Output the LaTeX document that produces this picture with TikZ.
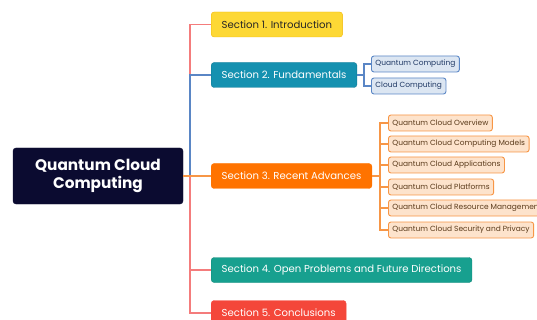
\documentclass[tikz,border=0pt]{standalone}
\usepackage{fontspec}
\setmainfont{Poppins}
\usetikzlibrary{positioning}

\definecolor{rootfill}{HTML}{0B0B30}
\definecolor{introfill}{HTML}{FDD835}
\definecolor{introline}{HTML}{F2B705}
\definecolor{fundfill}{HTML}{1591B0}
\definecolor{advfill}{HTML}{FF7300}
\definecolor{openfill}{HTML}{17A08F}
\definecolor{conclfill}{HTML}{F4473A}
\definecolor{salmon}{HTML}{F47C7C}
\definecolor{bluelink}{HTML}{5A86C5}
\definecolor{orangelink}{HTML}{F79646}
\definecolor{leafblue}{HTML}{DCE6F2}
\definecolor{leafbluetext}{HTML}{1F3864}
\definecolor{leafpeach}{HTML}{FDE3CC}
\definecolor{leafpeachtext}{HTML}{5A3A1A}

\begin{document}
\begin{tikzpicture}[x=1pt,y=-1pt,
  rootbox/.style={draw=rootfill,fill=rootfill,text=white,rounded corners=3pt,
    font=\fontsize{15.3}{18}\selectfont\bfseries,align=center,
    minimum width=170pt,minimum height=56pt},
  secbox/.style={rounded corners=3pt,anchor=west,minimum height=25pt,
    inner xsep=10.5pt,font=\fontsize{10.1}{12}\selectfont,text=white},
  leaf/.style={rounded corners=2.5pt,anchor=west,minimum height=16pt,
    inner xsep=4pt,inner ysep=0pt,font=\fontsize{7.45}{9}\selectfont,line width=0.9pt},
  blueleaf/.style={leaf,draw=bluelink,fill=leafblue,text=leafbluetext},
  peachleaf/.style={leaf,draw=orangelink,fill=leafpeach,text=leafpeachtext},
  link/.style={line width=1.1pt}]
\useasboundingbox (0,0) rectangle (537,320);

% main topic and sections
\node[rootbox] (root) at (98,176) {Quantum Cloud\\Computing};
\node[secbox,draw=introline,fill=introfill,text=black!85] (intro) at (211,24.5) {Section 1. Introduction};
\node[secbox,draw=fundfill!85!black,fill=fundfill] (fund) at (211,75) {Section 2. Fundamentals};
\node[secbox,draw=advfill,fill=advfill] (adv) at (211,176) {Section 3. Recent Advances};
\node[secbox,draw=openfill!85!black,fill=openfill] (open) at (211,270) {Section 4. Open Problems and Future Directions};
\node[secbox,draw=conclfill,fill=conclfill] (concl) at (211,313) {Section 5. Conclusions};

% fundamentals
\node[blueleaf] (qc) at (371,64) {Quantum Computing};
\node[blueleaf] (cc) at (371,86) {Cloud Computing};

% recent advances
\node[peachleaf] (ov) at (388,123) {Quantum Cloud Overview};
\node[peachleaf] (models) at (388,144) {Quantum Cloud Computing Models};
\node[peachleaf] (apps) at (388,165) {Quantum Cloud Applications};
\node[peachleaf] (plat) at (388,187) {Quantum Cloud Platforms};
\node[peachleaf] (res) at (388,208) {Quantum Cloud Resource Management};
\node[peachleaf] (sec) at (388,230) {Quantum Cloud Security and Privacy};

% branches
\coordinate (trunk) at (190,176);
\draw[link,salmon] (root.east) -- (trunk) |- (intro.west);
\draw[link,salmon] (trunk) |- (open.west);
\draw[link,salmon] (trunk) |- (concl.west);
\draw[link,bluelink] (trunk) |- (fund.west);
\draw[link,orangelink] (root.east) -- (adv.west);

\coordinate (fundfork) at (364,75);
\draw[link,bluelink] (fund.east) -- (fundfork);
\foreach \n in {qc,cc}
  \draw[link,bluelink] (fundfork) |- (\n.west);

\coordinate (advfork) at (380,176);
\draw[link,orangelink] (adv.east) -- (advfork);
\foreach \n in {ov,models,apps,plat,res,sec}
  \draw[link,orangelink] (advfork) |- (\n.west);
\end{tikzpicture}
\end{document}
